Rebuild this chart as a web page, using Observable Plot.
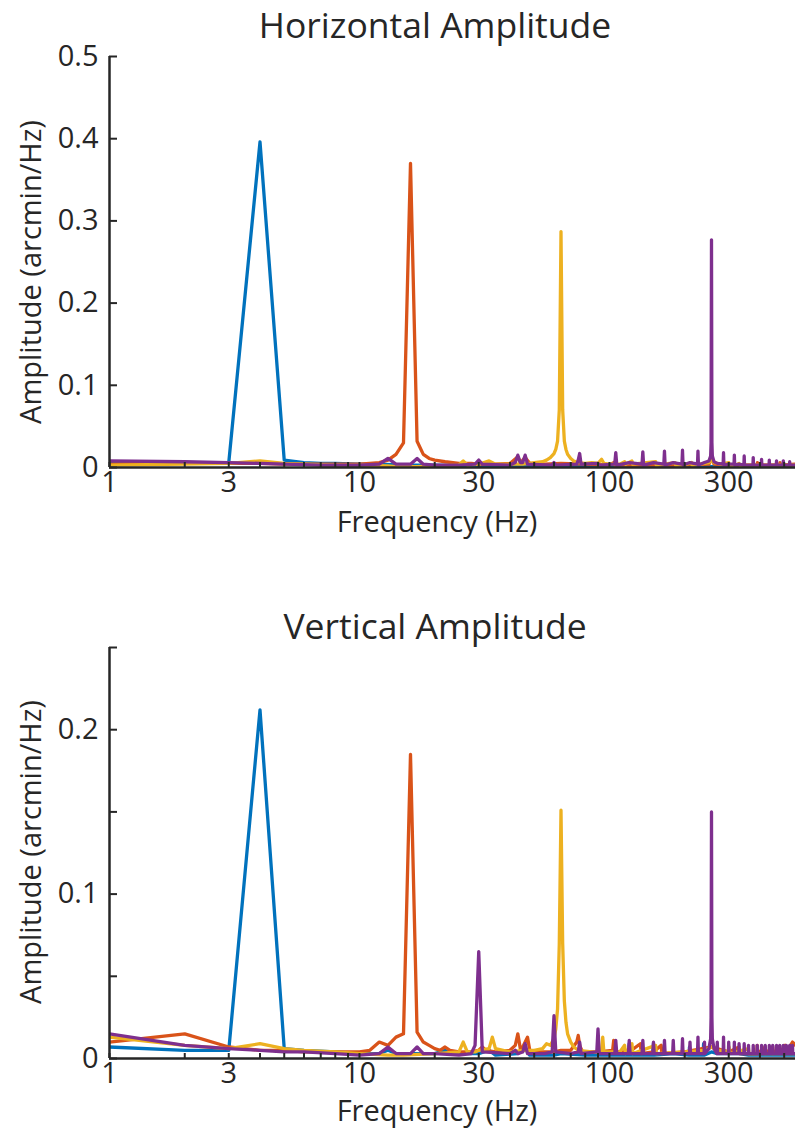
<!DOCTYPE html>
<html>
<head>
<meta charset="utf-8">
<script src="https://cdn.jsdelivr.net/npm/d3@7"></script>
<script src="https://cdn.jsdelivr.net/npm/@observablehq/plot@0.6"></script>
<style>
  html, body { margin: 0; padding: 0; background: #fff; }
  #wrap { position: relative; width: 795px; height: 1133px; font-family: "Open Sans", sans-serif; color: #262626; overflow: hidden; }
  .lbl { position: absolute; transform: translate(-50%, -50%); white-space: nowrap; line-height: 1.2; }
  .title { font-size: 35.5px; line-height: 1; }
  .axl { font-size: 29px; }
  .rot { transform: translate(-50%, -50%) rotate(-90deg); }
  .chart { position: absolute; left: 0; }
</style>
</head>
<body>
<div id="wrap">
  <div class="lbl title" style="left:435px;top:25px">Horizontal Amplitude</div>
  <div class="chart" id="c1" style="top:0px"></div>
  <div class="lbl axl" style="left:437px;top:521px">Frequency (Hz)</div>
  <div class="lbl axl rot" style="left:30px;top:272px">Amplitude (arcmin/Hz)</div>

  <div class="lbl title" style="left:435px;top:626px">Vertical Amplitude</div>
  <div class="chart" id="c2" style="top:580px"></div>
  <div class="lbl axl" style="left:437px;top:1110px">Frequency (Hz)</div>
  <div class="lbl axl rot" style="left:30px;top:852px">Amplitude (arcmin/Hz)</div>
</div>
<script>
// ---- series (stimulus frequencies) and colours ----
const seriesNames = ["4 Hz", "16 Hz", "64 Hz", "256 Hz"];
const seriesColors = ["#0072BD", "#D95319", "#EDB120", "#7E2F8E"];

// ---- axis ticks ----
const xTickLabels = [1, 3, 10, 30, 100, 300];
const xMinorTicks = [2, 4, 5, 6, 7, 8, 9, 20, 40, 50, 60, 70, 80, 90, 200, 400, 500];
const xDomain = [1, 555];
const yTicksH = [0, 0.1, 0.2, 0.3, 0.4, 0.5];
const yLabelsH = [0, 0.1, 0.2, 0.3, 0.4, 0.5];
const yTicksV = [0, 0.05, 0.1, 0.15, 0.2, 0.25];
const yLabelsV = [0, 0.1, 0.2];

// ---- Horizontal amplitude spectra: [frequency Hz, amplitude arcmin/Hz] ----
const hBlue = [[1,0.006],[2,0.006],[3,0.006],[4,0.396],[5,0.009],[6,0.006],[7,0.005],[8,0.005],[10,0.004],[12,0.004],[15,0.003],[20,0.003],[30,0.002],[50,0.002],[100,0.001],[200,0.001],[300,0.001],[555,0.001]];
const hOrange = [[1,0.004],[2,0.006],[3,0.005],[4,0.005],[5,0.004],[6,0.004],[8,0.004],[10,0.004],[11,0.005],[12,0.006],[13,0.009],[14,0.016],[15,0.03],[16,0.37],[17,0.032],[18,0.016],[19,0.011],[20,0.009],[22,0.007],[25,0.005],[28,0.005],[30,0.004],[35,0.004],[40,0.005],[43,0.013],[44,0.006],[46,0.012],[48,0.005],[55,0.004],[64,0.005],[80,0.004],[100,0.003],[104,0.006],[105,0.003],[150,0.003],[200,0.003],[250,0.004],[256,0.011],[262,0.004],[300,0.003],[390,0.003],[391,0.006],[392,0.003],[480,0.003],[481,0.006],[482,0.003],[555,0.004]];
const hYellow = [[1,0.003],[2,0.004],[3,0.005],[4,0.008],[5,0.005],[6,0.004],[8,0.003],[10,0.003],[13,0.002],[14,0.001],[17,0.001],[20,0.002],[25,0.003],[26,0.008],[27,0.003],[30,0.004],[33,0.008],[35,0.004],[40,0.004],[45,0.004],[50,0.006],[54,0.007],[56,0.009],[58,0.012],[60,0.017],[61,0.022],[62,0.032],[63,0.07],[64,0.287],[65,0.07],[66,0.032],[67,0.022],[68,0.016],[70,0.011],[72,0.008],[75,0.006],[80,0.005],[85,0.006],[90,0.005],[93,0.01],[95,0.005],[100,0.004],[110,0.004],[115,0.007],[116,0.004],[123,0.008],[124,0.004],[153,0.007],[154,0.003],[183,0.006],[184,0.003],[200,0.003],[213,0.006],[214,0.003],[230,0.004],[250,0.006],[256,0.008],[262,0.006],[280,0.004],[300,0.006],[301,0.003],[320,0.003],[330,0.005],[331,0.003],[555,0.003]];
const hPurple = [[1,0.008],[2,0.007],[3,0.006],[4,0.005],[5,0.004],[7,0.003],[10,0.003],[12,0.004],[13,0.011],[14,0.004],[16,0.004],[17,0.011],[18,0.004],[20,0.003],[25,0.003],[29,0.004],[30,0.009],[31,0.004],[40,0.003],[42,0.006],[43,0.015],[44,0.006],[45,0.006],[46,0.015],[47,0.004],[59,0.003],[60,0.006],[61,0.003],[74,0.004],[75,0.009],[76,0.017],[77,0.004],[90,0.005],[91,0.003],[105,0.004],[106,0.018],[107,0.003],[120,0.006],[135,0.004],[136,0.019],[137,0.003],[150,0.006],[165,0.004],[166,0.02],[167,0.003],[180,0.006],[195,0.004],[196,0.021],[197,0.003],[210,0.006],[225,0.004],[226,0.02],[227,0.003],[240,0.006],[250,0.008],[254,0.014],[255,0.03],[256,0.277],[257,0.03],[258,0.014],[262,0.007],[270,0.005],[285,0.004],[286,0.018],[287,0.003],[300,0.004],[315,0.004],[316,0.015],[317,0.003],[330,0.004],[345,0.003],[346,0.014],[347,0.003],[375,0.003],[376,0.012],[377,0.003],[405,0.003],[406,0.01],[407,0.003],[435,0.003],[436,0.009],[437,0.003],[465,0.003],[466,0.008],[467,0.003],[495,0.003],[496,0.008],[497,0.003],[525,0.003],[526,0.007],[527,0.003],[555,0.003]];

// ---- Vertical amplitude spectra ----
const vBlue = [[1,0.007],[2,0.005],[3,0.005],[4,0.212],[5,0.006],[6,0.005],[8,0.004],[10,0.003],[12,0.003],[13,0.005],[14,0.003],[20,0.003],[22,0.005],[23,0.003],[30,0.003],[33,0.005],[35,0.002],[43,0.003],[46,0.006],[48,0.002],[60,0.002],[64,0.003],[80,0.002],[100,0.002],[119,0.002],[120,0.009],[121,0.002],[149,0.002],[150,0.009],[151,0.002],[180,0.003],[208,0.002],[209,0.007],[210,0.002],[237,0.002],[238,0.009],[239,0.002],[256,0.004],[270,0.003],[330,0.003],[360,0.002],[555,0.002]];
const vOrange = [[1,0.010],[2,0.015],[3,0.007],[4,0.005],[5,0.005],[6,0.004],[8,0.004],[10,0.004],[11,0.005],[12,0.01],[13,0.008],[14,0.013],[15,0.015],[16,0.185],[17,0.016],[18,0.01],[19,0.008],[20,0.006],[21,0.005],[22,0.007],[23,0.005],[25,0.004],[28,0.004],[30,0.005],[31,0.007],[32,0.005],[35,0.004],[40,0.005],[42,0.008],[43,0.015],[44,0.006],[45,0.007],[47,0.013],[48,0.005],[50,0.004],[55,0.004],[60,0.004],[64,0.005],[70,0.005],[74,0.01],[75,0.014],[76,0.008],[78,0.004],[90,0.004],[103,0.005],[104,0.011],[105,0.004],[120,0.004],[133,0.009],[134,0.003],[150,0.004],[161,0.008],[162,0.003],[200,0.004],[256,0.007],[300,0.004],[330,0.007],[331,0.003],[389,0.003],[390,0.008],[391,0.003],[420,0.007],[421,0.003],[450,0.007],[451,0.003],[480,0.007],[481,0.003],[505,0.008],[506,0.003],[540,0.01],[555,0.008]];
const vYellow = [[1,0.013],[2,0.008],[3,0.006],[4,0.009],[5,0.006],[6,0.005],[8,0.004],[10,0.003],[13,0.002],[15,0.002],[20,0.003],[25,0.004],[26,0.01],[27,0.004],[29,0.004],[30,0.005],[33,0.006],[34,0.013],[35,0.006],[40,0.004],[45,0.005],[50,0.005],[54,0.006],[56,0.009],[58,0.008],[60,0.012],[61,0.018],[62,0.03],[63,0.07],[64,0.151],[65,0.07],[66,0.035],[67,0.022],[68,0.015],[70,0.01],[72,0.007],[75,0.005],[85,0.004],[93,0.004],[94,0.013],[95,0.004],[110,0.004],[115,0.008],[116,0.003],[123,0.009],[124,0.003],[153,0.008],[154,0.003],[200,0.004],[240,0.005],[256,0.007],[270,0.005],[300,0.004],[301,0.007],[302,0.003],[360,0.006],[361,0.003],[555,0.003]];
const vPurple = [[1,0.015],[2,0.008],[3,0.006],[4,0.005],[5,0.004],[6,0.004],[8,0.003],[10,0.002],[12,0.003],[13,0.007],[14,0.003],[16,0.003],[17,0.007],[18,0.003],[20,0.003],[25,0.002],[28,0.003],[29,0.008],[30,0.065],[31,0.004],[40,0.003],[42,0.005],[43,0.003],[45,0.004],[46,0.009],[47,0.003],[55,0.003],[59,0.004],[60,0.026],[61,0.004],[70,0.003],[75,0.004],[76,0.01],[77,0.003],[89,0.004],[90,0.018],[91,0.003],[105,0.003],[106,0.011],[107,0.003],[119,0.003],[120,0.011],[121,0.003],[135,0.003],[136,0.011],[137,0.003],[149,0.003],[150,0.01],[151,0.003],[165,0.003],[166,0.011],[167,0.003],[179,0.003],[180,0.011],[181,0.003],[195,0.003],[196,0.012],[197,0.003],[209,0.003],[210,0.01],[211,0.003],[225,0.003],[226,0.013],[227,0.003],[239,0.003],[240,0.01],[241,0.003],[250,0.006],[254,0.012],[255,0.025],[256,0.15],[257,0.025],[258,0.012],[262,0.006],[269,0.003],[270,0.01],[271,0.003],[285,0.003],[286,0.013],[287,0.003],[299,0.003],[300,0.01],[301,0.003],[315,0.003],[316,0.01],[317,0.003],[329,0.003],[330,0.009],[331,0.003],[345,0.003],[346,0.009],[347,0.003],[359,0.003],[360,0.008],[361,0.003],[375,0.003],[376,0.008],[377,0.003],[389,0.003],[390,0.008],[391,0.003],[405,0.003],[406,0.008],[407,0.003],[419,0.003],[420,0.008],[421,0.003],[435,0.003],[436,0.008],[437,0.003],[449,0.003],[450,0.008],[451,0.003],[465,0.003],[466,0.008],[467,0.003],[479,0.003],[480,0.008],[481,0.003],[495,0.003],[496,0.008],[497,0.003],[509,0.003],[510,0.008],[511,0.003],[525,0.003],[526,0.008],[527,0.003],[539,0.003],[540,0.008],[541,0.003],[555,0.003]];

function rows(list) {
  const out = [];
  list.forEach((s, i) => s.forEach(([f, a]) => out.push({series: seriesNames[i], f, a})));
  return out;
}

const axisColor = "#262626";

function chart({data, yDomain, yTicks, yLabels, height, marginTop, marginBottom}) {
  return Plot.plot({
    width: 795,
    height,
    marginLeft: 109,
    marginRight: 0,
    marginTop,
    marginBottom,
    style: {fontFamily: "'Open Sans', sans-serif", fontSize: "29px", color: axisColor, background: "transparent", overflow: "visible"},
    x: {type: "log", domain: xDomain},
    y: {domain: yDomain},
    color: {domain: seriesNames, range: seriesColors},
    marks: [
      Plot.line(data, {x: "f", y: "a", z: "series", stroke: "series", strokeWidth: 3.3, strokeLinejoin: "round", clip: true}),
      Plot.ruleX([xDomain[0]], {stroke: axisColor, strokeWidth: 2.5}),
      Plot.ruleY([0], {stroke: axisColor, strokeWidth: 2.5}),
      Plot.axisY({ticks: yTicks, tickSize: -8, tickPadding: 19, strokeWidth: 2, label: null,
        tickFormat: d => yLabels.includes(d) ? String(d) : ""}),
      Plot.axisX({ticks: xTickLabels, tickSize: -5, tickPadding: 9, strokeWidth: 2, label: null, tickFormat: d => String(d)}),
      Plot.axisX({ticks: xMinorTicks, tickSize: -5, strokeWidth: 2, text: null, label: null})
    ]
  });
}

document.getElementById("c1").appendChild(chart({
  data: rows([hBlue, hOrange, hYellow, hPurple]),
  yDomain: [0, 0.5], yTicks: yTicksH, yLabels: yLabelsH,
  height: 540, marginTop: 56, marginBottom: 73
}));
document.getElementById("c2").appendChild(chart({
  data: rows([vBlue, vOrange, vYellow, vPurple]),
  yDomain: [0, 0.25], yTicks: yTicksV, yLabels: yLabelsV,
  height: 553, marginTop: 67, marginBottom: 75
}));
</script>
</body>
</html>
